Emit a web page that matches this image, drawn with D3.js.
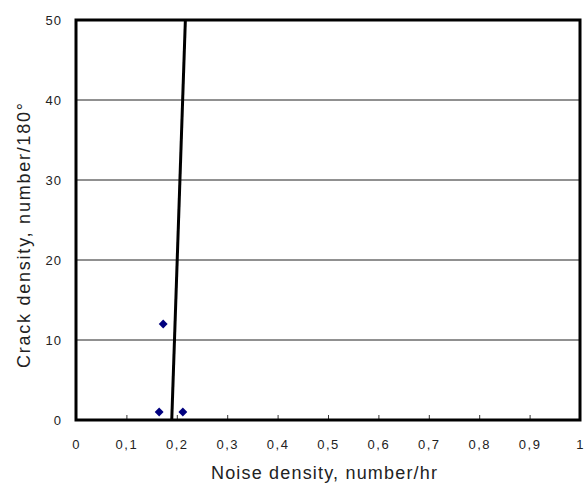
<!DOCTYPE html>
<html>
<head>
<meta charset="utf-8">
<script src="https://cdn.jsdelivr.net/npm/d3@7"></script>
<style>
  html, body { margin: 0; padding: 0; background: #fff; }
  text { font-family: "Liberation Sans", "DejaVu Sans", sans-serif; fill: #222; }
</style>
</head>
<body>
<svg id="chart" width="584" height="484"></svg>
<script>
// Observed crack density vs. acoustic noise density
const noiseDensity = [0.165, 0.212, 0.173];
const crackDensity = [1, 1, 12];

// Fitted trend line end points
const trendX = [0.19, 0.217];
const trendY = [0, 50];

const xTicks = [0, 0.1, 0.2, 0.3, 0.4, 0.5, 0.6, 0.7, 0.8, 0.9, 1];
const yTicks = [0, 10, 20, 30, 40, 50];

const svg = d3.select("#chart");
const plotLeft = 76, plotRight = 580, plotTop = 20, plotBottom = 420;

const x = d3.scaleLinear().domain([0, 1]).range([plotLeft, plotRight]);
const y = d3.scaleLinear().domain([0, 50]).range([plotBottom, plotTop]);

const fmtX = d => d === 0 ? "0" : d === 1 ? "1" : d3.format(".1f")(d).replace(".", ",");

// Horizontal gridlines
svg.append("g")
  .selectAll("line")
  .data(yTicks.filter(d => d > 0 && d < 50))
  .join("line")
  .attr("x1", plotLeft).attr("x2", plotRight)
  .attr("y1", d => y(d)).attr("y2", d => y(d))
  .attr("stroke", "#222").attr("stroke-width", 1);

// Bottom axis: tick marks pointing inward, labels below
const xAxis = svg.append("g").attr("transform", `translate(0,${plotBottom})`)
  .call(d3.axisBottom(x).tickValues(xTicks).tickSizeInner(-5).tickSizeOuter(0).tickPadding(20).tickFormat(fmtX));
xAxis.select(".domain").remove();
xAxis.selectAll(".tick line").attr("stroke", "#333");
xAxis.selectAll(".tick text")
  .attr("font-size", 13).attr("letter-spacing", 1.5).style("fill", "#222");

// Left axis labels
const yAxis = svg.append("g").attr("transform", `translate(${plotLeft},0)`)
  .call(d3.axisLeft(y).tickValues(yTicks).tickSize(0).tickPadding(14));
yAxis.select(".domain").remove();
yAxis.selectAll(".tick text")
  .attr("font-size", 13).attr("letter-spacing", 1).style("fill", "#222");

// Plot frame
svg.append("rect")
  .attr("x", plotLeft).attr("y", plotTop)
  .attr("width", plotRight - plotLeft).attr("height", plotBottom - plotTop)
  .attr("fill", "none").attr("stroke", "#000").attr("stroke-width", 3);

// Trend line
svg.append("line")
  .attr("x1", x(trendX[0])).attr("y1", y(trendY[0]))
  .attr("x2", x(trendX[1])).attr("y2", y(trendY[1]))
  .attr("stroke", "#000").attr("stroke-width", 3);

// Data points as navy diamonds
svg.append("g")
  .selectAll("path")
  .data(noiseDensity.map((v, i) => [v, crackDensity[i]]))
  .join("path")
  .attr("d", d3.symbol(d3.symbolDiamond2, 50)())
  .attr("transform", d => `translate(${x(d[0])},${y(d[1])})`)
  .attr("fill", "#00007f");

// Axis titles
svg.append("text")
  .attr("x", 211).attr("y", 479)
  .attr("font-size", 18)
  .attr("textLength", 226).attr("lengthAdjust", "spacing")
  .text("Noise density, number/hr");

svg.append("text")
  .attr("transform", "translate(30,368) rotate(-90)")
  .attr("font-size", 18)
  .attr("textLength", 265).attr("lengthAdjust", "spacing")
  .text("Crack density, number/180°");
</script>
</body>
</html>
